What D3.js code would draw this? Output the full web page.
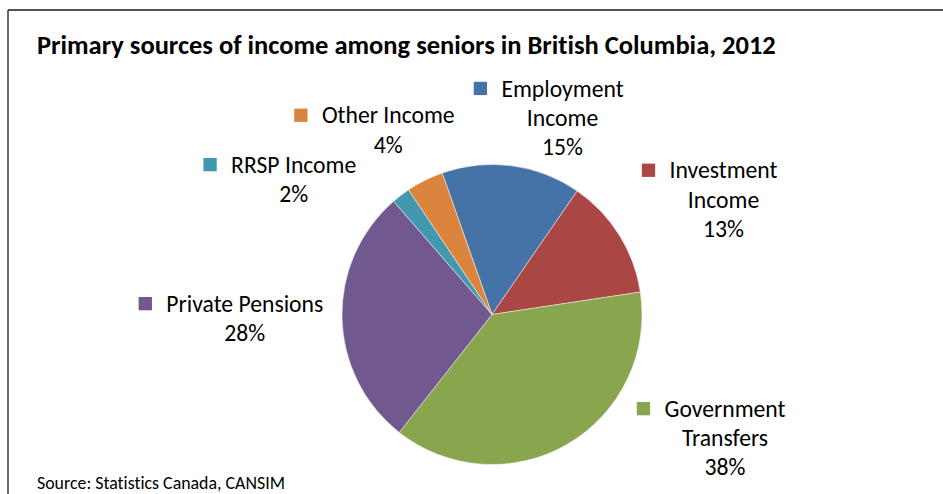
<!DOCTYPE html>
<html>
<head>
<meta charset="utf-8">
<script src="https://cdn.jsdelivr.net/npm/d3@7"></script>
<style>
  html, body { margin: 0; padding: 0; background: #fff; }
  svg { display: block; }
  text { font-family: Carlito, Calibri, Lato, "Open Sans", sans-serif; fill: #000;
         font-variant-ligatures: none; }
</style>
</head>
<body>
<svg id="chart" width="943" height="494"></svg>
<script>
// Income sources for seniors in British Columbia, 2012 (percent of total)
const categories = ["Employment Income", "Investment Income", "Government Transfers",
                    "Private Pensions", "RRSP Income", "Other Income"];
const values = [15, 13, 38, 28, 2, 4];
const colors = ["#4572A7", "#AA4643", "#89A54E", "#71588F", "#4198AF", "#DB843D"];

const titleText = "Primary sources of income among seniors in British Columbia, 2012";
const sourceText = "Source: Statistics Canada, CANSIM";

// Label layout: centre x of the text block, first baseline, and whether the name wraps
const labelLayout = [
  { cx: 562.5, y: 96.5,  wrap: true },
  { cx: 723.5, y: 178.3, wrap: true },
  { cx: 725.0, y: 416.7, wrap: true },
  { cx: 244.8, y: 311.7, wrap: false },
  { cx: 293.7, y: 172.7, wrap: false },
  { cx: 388.3, y: 123.3, wrap: false }
];

const svg = d3.select("#chart");
const W = 943, H = 494;

// frame lines (top and left)
svg.append("line").attr("x1", 8).attr("y1", 10).attr("x2", W).attr("y2", 10)
  .attr("stroke", "#1a1a1a").attr("stroke-width", 1.3);
svg.append("line").attr("x1", 8).attr("y1", 10).attr("x2", 8).attr("y2", H)
  .attr("stroke", "#1a1a1a").attr("stroke-width", 1.3);

// scale a text element's font size so it spans the given width
function fitWidth(sel, target) {
  const node = sel.node();
  const fs = parseFloat(sel.attr("font-size"));
  const w = node.getComputedTextLength();
  sel.attr("font-size", (fs * target / w).toFixed(2));
}

// title
const title = svg.append("text")
  .attr("x", 37).attr("y", 54)
  .attr("font-size", 24).attr("font-weight", "bold")
  .text(titleText);
fitWidth(title, 739);

// source note
const src = svg.append("text")
  .attr("x", 37).attr("y", 489)
  .attr("font-size", 13)
  .text(sourceText);
fitWidth(src, 248);

// pie
const cx = 492, cy = 314.5, R = 150;
const startDeg = -19.4;
const pie = d3.pie().sort(null).value(d => d.value)
  .startAngle(startDeg * Math.PI / 180)
  .endAngle((startDeg + 360) * Math.PI / 180);
const arc = d3.arc().innerRadius(0).outerRadius(R);
const data = categories.map((c, i) => ({ name: c, value: values[i], color: colors[i] }));

const g = svg.append("g").attr("transform", `translate(${cx},${cy})`);
g.selectAll("path").data(pie(data)).join("path")
  .attr("d", arc)
  .attr("fill", d => d.data.color)
  .attr("stroke", "#ffffff")
  .attr("stroke-opacity", 0.6)
  .attr("stroke-width", 0.8);

// measure label font size from a reference string width
const probe = svg.append("text").attr("font-size", 21).text("Private Pensions");
fitWidth(probe, 157);
const labelFs = parseFloat(probe.attr("font-size"));
probe.remove();

const lineH = 29.3;
const keySize = 13.3, keyGap = 14.4;

data.forEach((d, i) => {
  const L = labelLayout[i];
  const lines = L.wrap ? d.name.split(" ") : [d.name];
  lines.push(d.value + "%");
  const lg = svg.append("g");
  lines.forEach((ln, k) => {
    lg.append("text")
      .attr("x", L.cx).attr("y", L.y + k * lineH)
      .attr("text-anchor", "middle")
      .attr("font-size", labelFs)
      .text(ln);
  });
  // legend key next to the first line
  const first = lg.select("text").node();
  const w = first.getComputedTextLength();
  lg.append("rect")
    .attr("x", L.cx - w / 2 - keyGap - keySize)
    .attr("y", L.y - 14.7)
    .attr("width", keySize).attr("height", keySize)
    .attr("fill", d.color);
});
</script>
</body>
</html>
